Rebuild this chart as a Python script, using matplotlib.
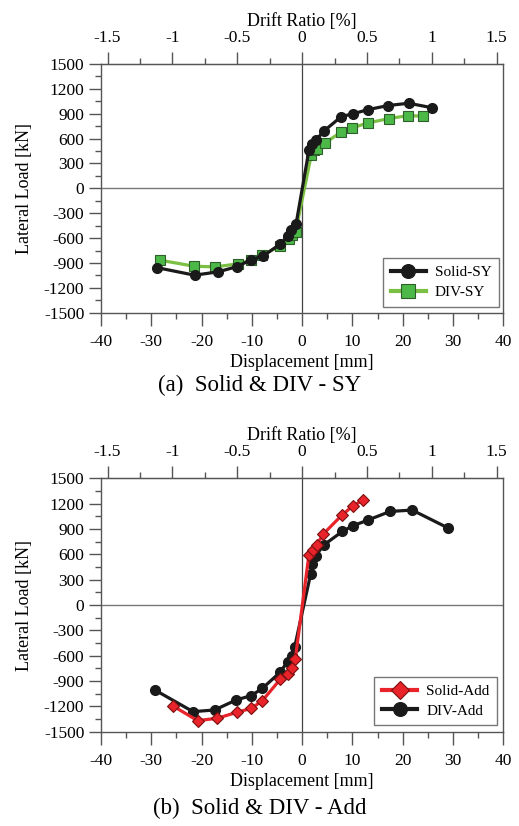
import numpy as np
import matplotlib
matplotlib.use("Agg")
import matplotlib.pyplot as plt
from matplotlib.ticker import MultipleLocator

plt.rcParams['font.family'] = ['Liberation Serif', 'DejaVu Serif']
plt.rcParams['axes.unicode_minus'] = False

# story height used for drift ratio (mm per 1 %)
drift_mm = 25.8

# (a) Solid & DIV - SY
solid_sy_x = [-28.8, -21.4, -16.7, -12.9, -10.2, -7.8, -4.4, -2.9, -2.2, -1.2,
              1.35, 2.0, 2.7, 4.3, 7.8, 10.1, 13.1, 17.1, 21.2, 25.8]
solid_sy_y = [-957, -1047, -1007, -943, -862, -818, -674, -576, -501, -429,
              457, 538, 578, 690, 866, 899, 950, 999, 1027, 973]
div_sy_x = [-28.3, -21.5, -17.3, -12.7, -10.1, -7.9, -4.3, -2.7, -1.95, -1.3,
            1.8, 2.3, 3.0, 4.5, 7.7, 10.0, 13.1, 17.3, 21.1, 24.0]
div_sy_y = [-866, -939, -947, -910, -865, -806, -690, -605, -566, -526,
            397, 457, 477, 545, 678, 730, 790, 842, 878, 870]

# (b) Solid & DIV - Add
solid_add_x = [-25.7, -20.8, -16.9, -13.0, -10.1, -7.9, -4.3, -2.8, -2.1, -1.35,
               1.35, 2.15, 2.9, 4.2, 7.85, 10.1, 12.2]
solid_add_y = [-1195, -1369, -1342, -1271, -1224, -1133, -876, -817, -750, -639,
               592, 651, 710, 840, 1060, 1175, 1243]
div_add_x = [-29.3, -21.7, -17.4, -13.1, -10.1, -7.9, -4.4, -2.9, -2.1, -1.5,
             1.7, 2.0, 2.7, 4.3, 8.0, 10.1, 13.1, 17.5, 21.9, 29.0]
div_add_y = [-1006, -1263, -1243, -1124, -1073, -987, -798, -671, -600, -502,
             367, 485, 583, 710, 871, 938, 1006, 1108, 1124, 913]

drift_ticks = [-1.5, -1, -0.5, 0, 0.5, 1, 1.5]
drift_labels = ["-1.5", "-1", "-0.5", "0", "0.5", "1", "1.5"]

frame_col = '#555555'


def style_axes(ax):
    ax.set_xlim(-40, 40)
    ax.set_ylim(-1500, 1500)
    ax.xaxis.set_major_locator(MultipleLocator(10))
    ax.xaxis.set_minor_locator(MultipleLocator(5))
    ax.yaxis.set_major_locator(MultipleLocator(300))
    ax.yaxis.set_minor_locator(MultipleLocator(150))
    ax.tick_params(which='major', direction='out', length=9, width=1.0,
                   labelsize=12.5, color=frame_col, pad=3)
    ax.tick_params(axis='x', which='major', pad=6)
    ax.tick_params(which='minor', direction='out', length=4.5, width=1.0, color=frame_col)
    for s in ax.spines.values():
        s.set_color(frame_col)
        s.set_linewidth(1.0)
    ax.axhline(0, color='#777777', lw=1.0, zorder=1)
    ax.axvline(0, color='#444444', lw=0.9, zorder=1)
    ax.set_xlabel("Displacement [mm]", fontsize=13, labelpad=3)
    ax.set_ylabel("Lateral Load [kN]", fontsize=13, labelpad=8)

    top = ax.secondary_xaxis('top', functions=(lambda d: d / drift_mm,
                                               lambda r: r * drift_mm))
    top.set_xticks(drift_ticks)
    top.set_xticklabels(drift_labels)
    top.xaxis.set_minor_locator(MultipleLocator(0.25))
    top.tick_params(which='major', direction='out', length=9, width=1.0,
                    labelsize=12.5, color=frame_col, pad=4)
    top.tick_params(which='minor', direction='out', length=4.5, width=1.0, color=frame_col)
    top.spines['top'].set_color(frame_col)
    top.set_xlabel("Drift Ratio [%]", fontsize=13, labelpad=3)


def add_legend(ax, anchor):
    leg = ax.legend(loc='lower right', fontsize=11, frameon=True, fancybox=False,
                    edgecolor='#555555', handlelength=2.3, borderpad=0.5,
                    bbox_to_anchor=anchor, labelspacing=0.4, markerscale=1.4,
                    handletextpad=0.6, borderaxespad=0.0)
    leg.get_frame().set_linewidth(1.0)
    for line in leg.get_lines():
        line.set_linewidth(3.0)
    return leg


fig = plt.figure(figsize=(5.19, 8.26), dpi=100)

ax1 = fig.add_axes([0.1946, 0.6214, 0.775, 0.3011])
style_axes(ax1)
ax1.plot(solid_sy_x, solid_sy_y, '-o', color='#1a1a1a', lw=2.3, ms=7,
         mfc='#1a1a1a', mec='#1a1a1a', label='Solid-SY', zorder=3)
ax1.plot(div_sy_x, div_sy_y, '-s', color='#7cc043', lw=2.3, ms=7,
         mfc='#4cb848', mec='#2e5e2a', mew=0.8, label='DIV-SY', zorder=2)
add_legend(ax1, (0.99, 0.025))

ax2 = fig.add_axes([0.1946, 0.1142, 0.775, 0.3067])
style_axes(ax2)
ax2.plot(solid_add_x, solid_add_y, '-D', color='#e8232a', lw=2.3, ms=6.5,
         mfc='#e8232a', mec='#7a1010', mew=0.8, label='Solid-Add', zorder=3)
ax2.plot(div_add_x, div_add_y, '-o', color='#1a1a1a', lw=2.3, ms=7,
         mfc='#1a1a1a', mec='#1a1a1a', label='DIV-Add', zorder=2)
add_legend(ax2, (0.985, 0.025))

fig.text(0.5, 1 - 385 / 826, "(a)  Solid & DIV - SY", ha='center', va='center', fontsize=16.5)
fig.text(0.5, 1 - 808 / 826, "(b)  Solid & DIV - Add", ha='center', va='center', fontsize=16.5)

fig.savefig("out.png", dpi=100)
